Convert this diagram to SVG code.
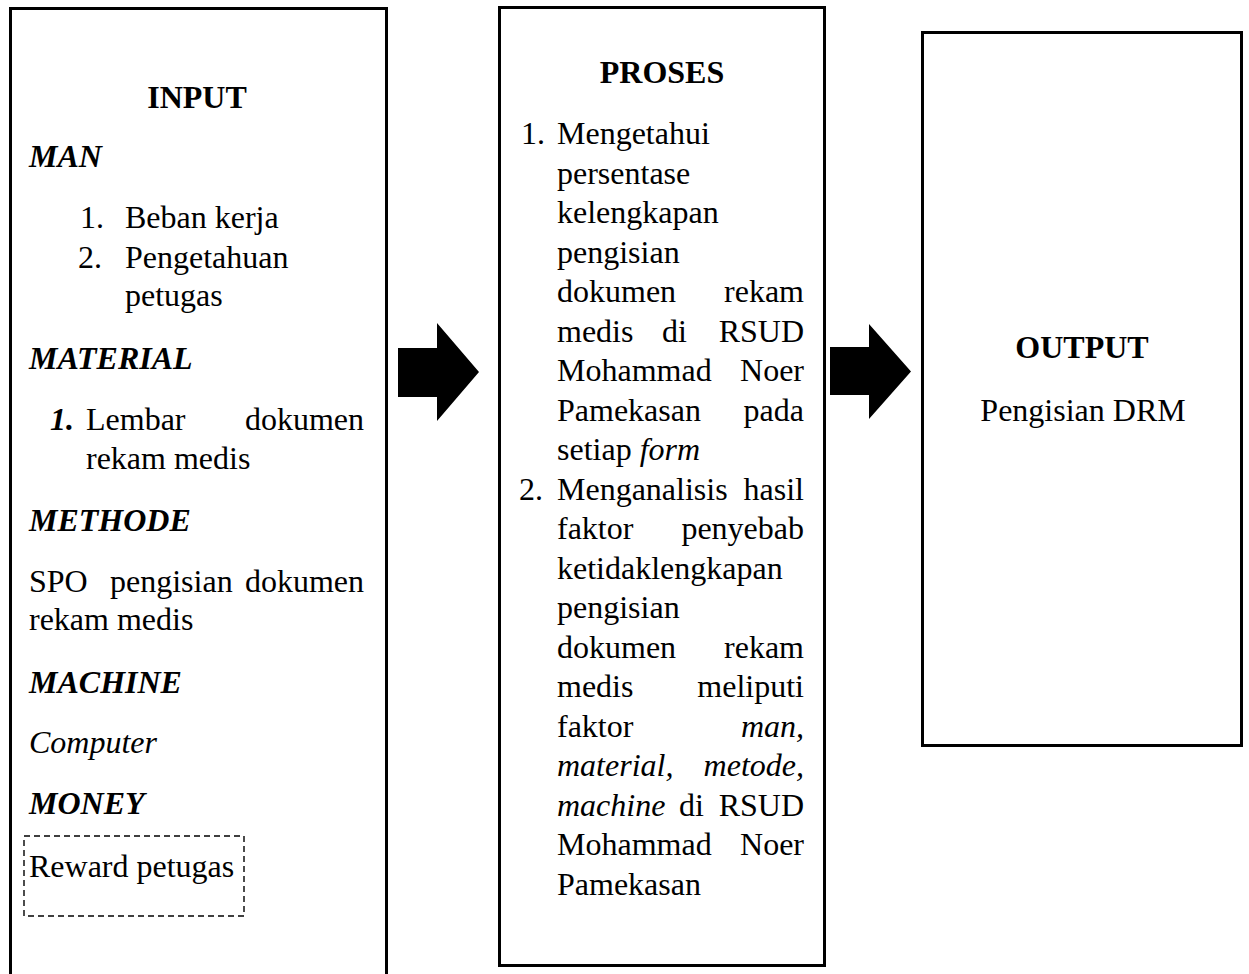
<svg xmlns="http://www.w3.org/2000/svg" width="1249" height="974" viewBox="0 0 1249 974">
<style>
.box{fill:#fff;stroke:#000;stroke-width:3}
.dash{fill:none;stroke:#000;stroke-width:1.4;stroke-dasharray:6 4}
.t{font-family:"Liberation Serif","Times New Roman",serif;font-size:32px;fill:#000}
.b{font-weight:bold}
.i{font-style:italic}
.c{text-anchor:middle}
.e{text-anchor:end}
.arrow{fill:#000}
</style>
<rect width="1249" height="974" fill="#fff"/>
<g id="input">
<rect class="box" x="10.5" y="8.5" width="376" height="1000"/>
<text class="t b c" x="197" y="108">INPUT</text>
<text class="t b i" x="29" y="167">MAN</text>
<text class="t" x="80" y="228">1.</text>
<text class="t" x="125" y="228">Beban kerja</text>
<text class="t" x="78" y="268">2.</text>
<text class="t" x="125" y="268">Pengetahuan</text>
<text class="t" x="125" y="306">petugas</text>
<text class="t b i" x="29" y="369">MATERIAL</text>
<text class="t b i" x="50" y="430">1.</text>
<text class="t" x="86" y="430">Lembar</text>
<text class="t e" x="364" y="430">dokumen</text>
<text class="t" x="86" y="469">rekam medis</text>
<text class="t b i" x="29" y="531">METHODE</text>
<text class="t" x="29" y="592">SPO</text>
<text class="t" x="110" y="592">pengisian</text>
<text class="t e" x="364" y="592">dokumen</text>
<text class="t" x="29" y="630">rekam medis</text>
<text class="t b i" x="29" y="693">MACHINE</text>
<text class="t i" x="29" y="753">Computer</text>
<text class="t b i" x="29" y="814">MONEY</text>
<rect class="dash" x="24" y="836" width="220" height="80"/>
<text class="t" x="29" y="877">Reward petugas</text>
</g>
<g id="proses">
<rect class="box" x="499.5" y="7.5" width="325" height="958"/>
<text class="t b c" x="662" y="83">PROSES</text>
<text class="t" x="521" y="144">1.</text>
<text class="t" x="557" y="144">Mengetahui</text>
<text class="t" x="557" y="183.5">persentase</text>
<text class="t" x="557" y="223">kelengkapan</text>
<text class="t" x="557" y="262.5">pengisian</text>
<text class="t" x="557" y="302">dokumen</text>
<text class="t e" x="804" y="302">rekam</text>
<text class="t" x="557" y="341.5">medis</text>
<text class="t" x="662" y="341.5">di</text>
<text class="t e" x="804" y="341.5">RSUD</text>
<text class="t" x="557" y="381">Mohammad</text>
<text class="t e" x="804" y="381">Noer</text>
<text class="t" x="557" y="420.5">Pamekasan</text>
<text class="t e" x="804" y="420.5">pada</text>
<text class="t" x="557" y="460">setiap <tspan class="i">form</tspan></text>
<text class="t" x="519" y="499.5">2.</text>
<text class="t" x="557" y="499.5">Menganalisis</text>
<text class="t e" x="804" y="499.5">hasil</text>
<text class="t" x="557" y="539">faktor</text>
<text class="t e" x="804" y="539">penyebab</text>
<text class="t" x="557" y="578.5">ketidaklengkapan</text>
<text class="t" x="557" y="618">pengisian</text>
<text class="t" x="557" y="657.5">dokumen</text>
<text class="t e" x="804" y="657.5">rekam</text>
<text class="t" x="557" y="697">medis</text>
<text class="t e" x="804" y="697">meliputi</text>
<text class="t" x="557" y="736.5">faktor</text>
<text class="t i e" x="804" y="736.5">man,</text>
<text class="t i" x="557" y="776">material,</text>
<text class="t i e" x="804" y="776">metode,</text>
<text class="t i" x="557" y="815.5">machine</text>
<text class="t" x="679" y="815.5">di</text>
<text class="t e" x="804" y="815.5">RSUD</text>
<text class="t" x="557" y="855">Mohammad</text>
<text class="t e" x="804" y="855">Noer</text>
<text class="t" x="557" y="894.5">Pamekasan</text>
</g>
<g id="output">
<rect class="box" x="922.5" y="32.5" width="319" height="713"/>
<text class="t b c" x="1082" y="358">OUTPUT</text>
<text class="t c" x="1083" y="421">Pengisian DRM</text>
</g>
<g id="connectors">
<polygon class="arrow" points="398,348 437,348 437,323 479,372 437,421 437,397 398,397"/>
<polygon class="arrow" points="830,347 869,347 869,324 911,371.5 869,419 869,395 830,395"/>
</g>
</svg>
